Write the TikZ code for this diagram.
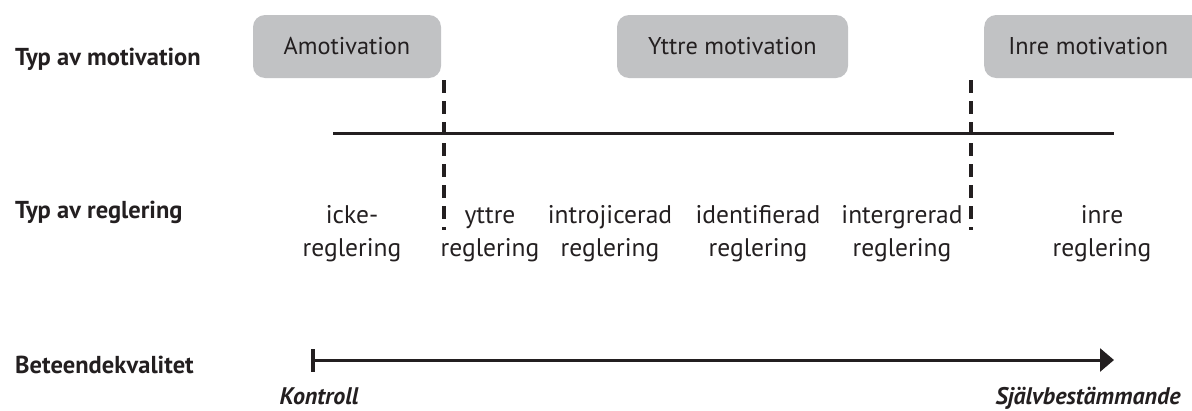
\documentclass[tikz,border=0pt]{standalone}
\usepackage{fontspec}
\setmainfont{PT Sans}
\usetikzlibrary{arrows.meta}
\definecolor{ink}{HTML}{231F20}
\definecolor{boxgray}{HTML}{C1C2C4}
\tikzset{
  rowlabel/.style={anchor=base west, font=\fontsize{24.5}{28}\selectfont\bfseries, text=ink, inner sep=0pt},
  motbox/.style={draw=none, fill=boxgray, rounded corners=12pt, font=\fontsize{24.3}{28}\selectfont, text=ink, inner sep=0pt},
  reg/.style={align=center, font=\fontsize{25.5}{33}\selectfont, text=ink, inner sep=0pt, anchor=base},
  endlabel/.style={anchor=base, font=\fontsize{24}{28}\selectfont\bfseries\itshape, text=ink, inner sep=0pt},
  divider/.style={draw=ink, line width=4pt, dash pattern=on 13pt off 8pt},
  axis/.style={draw=ink, line width=3pt},
}
\begin{document}
\begin{tikzpicture}[x=1pt,y=-1pt]
\useasboundingbox (0,0) rectangle (1192,410);
% row labels
\node[rowlabel] (lmot) at (15,65) {Typ av motivation};
\node[rowlabel] (lreg) at (15,218) {Typ av reglering};
\node[rowlabel] (lbet) at (15,373) {Beteendekvalitet};
% motivation boxes
\node[motbox, minimum width=188pt, minimum height=63pt] (amot) at (347,46.5) {Amotivation};
\node[motbox, minimum width=231pt, minimum height=63pt] (yttre) at (732.5,46.5) {Yttre motivation};
\node[motbox, minimum width=230pt, minimum height=63pt, anchor=west] (inre) at (984,46.5) {\hspace*{-22pt}Inre motivation};
% dividers
\coordinate (d1t) at (444,80);
\coordinate (d1b) at (444,230);
\coordinate (d2t) at (971,80);
\coordinate (d2b) at (971,230);
\draw[divider] (d1t) -- (d1b);
\draw[divider] (d2t) -- (d2b);
% horizontal line
\coordinate (hl) at (333,133);
\coordinate (hr) at (1114,133);
\draw[axis] (hl) -- (hr);
% regulation types
\node[reg] (r1) at (352,256) {icke-\\reglering};
\node[reg] (r2) at (490,256) {yttre\\reglering};
\node[reg] (r3) at (610,256) {introjicerad\\reglering};
\node[reg] (r4) at (758,256) {identifierad\\reglering};
\node[reg] (r5) at (902,256) {intergrerad\\reglering};
\node[reg] (r6) at (1102,256) {inre\\reglering};
% quality arrow
\coordinate (as) at (311,360);
\coordinate (ae) at (1114,360);
\draw[axis, {Bar[width=23pt,line width=4pt]}-{Triangle[length=14pt,width=23pt]}] (as) -- (ae);
\node[endlabel] (kon) at (319,404) {Kontroll};
\node[endlabel] (sjb) at (1088,404) {Självbestämmande};
\end{tikzpicture}
\end{document}
